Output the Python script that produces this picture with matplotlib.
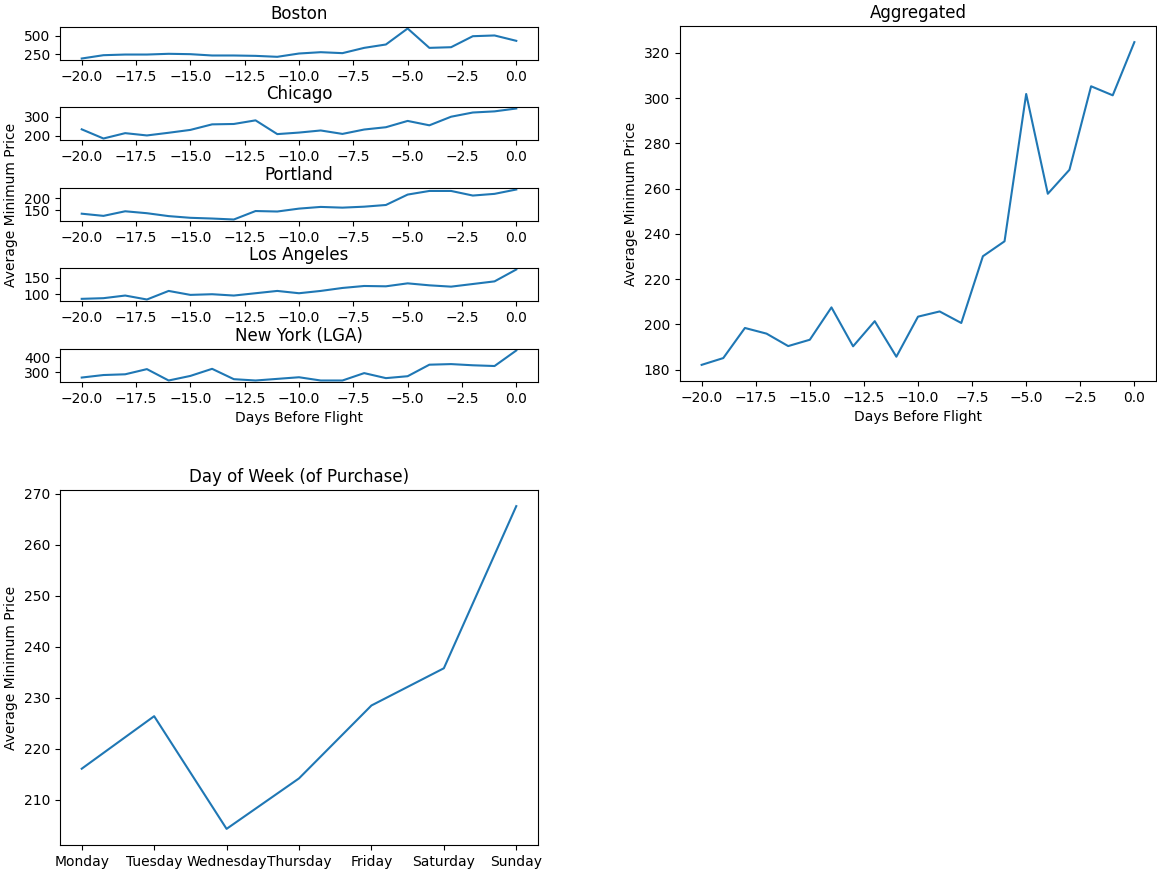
import matplotlib
matplotlib.use("Agg")
import matplotlib.pyplot as plt
import numpy as np

# Days before flight (x axis for all day-based plots)
days = np.arange(-20, 1)

# Average minimum price per city, days -20 .. 0
boston = [191, 236, 245, 245, 255, 250, 232, 232, 227, 214, 259,
          277, 264, 336, 382, 600, 336, 345, 495, 505, 432]
chicago = [234, 186, 214, 202, 216, 231, 260, 262, 281, 209, 217,
           228, 210, 233, 245, 278, 255, 300, 322, 328, 343]
portland = [136, 127, 146, 138, 126, 119, 116, 112, 147, 145, 157,
            164, 161, 165, 172, 215, 230, 230, 211, 218, 236]
los_angeles = [86, 88, 96, 84, 110, 98, 100, 96, 103, 110, 103,
               110, 119, 125, 124, 133, 127, 123, 131, 139, 175]
new_york = [263, 280, 285, 320, 243, 274, 322, 252, 243, 254, 265,
            243, 243, 293, 259, 272, 350, 354, 346, 341, 446]

aggregated = [182.1, 185.1, 198.4, 195.9, 190.4, 193.2, 207.5, 190.3,
              201.4, 185.7, 203.4, 205.7, 200.6, 230.1, 236.7, 301.8,
              257.7, 268.3, 305.2, 301.2, 324.7]

weekdays = ['Monday', 'Tuesday', 'Wednesday', 'Thursday', 'Friday',
            'Saturday', 'Sunday']
weekday_price = [216.1, 226.4, 204.3, 214.2, 228.5, 235.8, 267.6]

city_names = ['Boston', 'Chicago', 'Portland', 'Los Angeles', 'New York (LGA)']
city_prices = [boston, chicago, portland, los_angeles, new_york]

W, H = 1157, 873
fig = plt.figure(figsize=(W / 100, H / 100), dpi=100)


def px_axes(x0, y0, x1, y1):
    # axes from pixel box (top-left origin)
    return fig.add_axes([x0 / W, 1 - y1 / H, (x1 - x0) / W, (y1 - y0) / H])


# stacked city plots on the left
city_tops = [27, 107, 188, 268, 349]
for i, (name, prices) in enumerate(zip(city_names, city_prices)):
    top = city_tops[i]
    ax = px_axes(60, top, 538, top + 33)
    ax.plot(days, prices)
    ax.set_title(name)
    if name == 'Portland':
        ax.set_ylabel('Average Minimum Price')
    if name == 'New York (LGA)':
        ax.set_xlabel('Days Before Flight')

# aggregated over all cities
ax = px_axes(680, 26, 1156, 381)
ax.plot(days, aggregated)
ax.set_title('Aggregated')
ax.set_ylabel('Average Minimum Price')
ax.set_xlabel('Days Before Flight')

# price by day of purchase
ax = px_axes(60, 490, 538, 845)
ax.plot(weekdays, weekday_price)
ax.set_title('Day of Week (of Purchase)')
ax.set_ylabel('Average Minimum Price')

fig.savefig('out.png', dpi=100)
